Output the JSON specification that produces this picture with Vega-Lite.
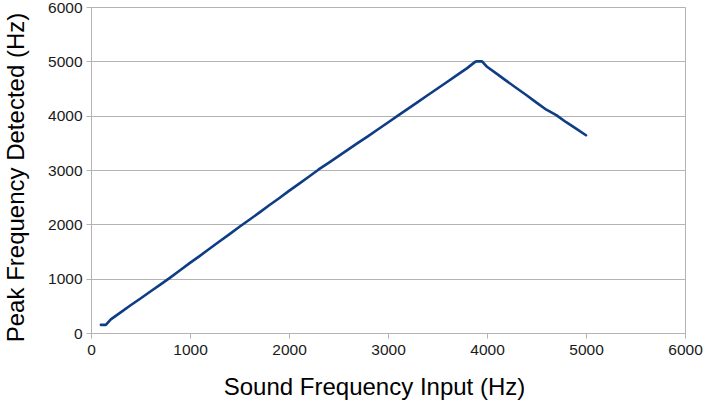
{
  "$schema": "https://vega.github.io/schema/vega-lite/v6.json",
  "width": 594,
  "height": 326,
  "autosize": {"type": "none"},
  "padding": {"left": 91, "top": 7, "right": 18, "bottom": 68},
  "background": "white",
  "config": {
    "font": "Liberation Sans",
    "view": {"stroke": "#b3b3b3", "strokeWidth": 1}
  },
  "data": {
    "values": [
      {"input": 100, "peak": 150}, {"input": 150, "peak": 150}, {"input": 200, "peak": 250},
      {"input": 300, "peak": 380}, {"input": 400, "peak": 510}, {"input": 500, "peak": 635},
      {"input": 600, "peak": 765}, {"input": 700, "peak": 890}, {"input": 800, "peak": 1020},
      {"input": 900, "peak": 1155}, {"input": 1000, "peak": 1290}, {"input": 1100, "peak": 1420},
      {"input": 1200, "peak": 1555}, {"input": 1300, "peak": 1690}, {"input": 1400, "peak": 1820},
      {"input": 1500, "peak": 1955}, {"input": 1600, "peak": 2085}, {"input": 1700, "peak": 2215},
      {"input": 1800, "peak": 2350}, {"input": 1900, "peak": 2480}, {"input": 2000, "peak": 2615},
      {"input": 2100, "peak": 2745}, {"input": 2200, "peak": 2875}, {"input": 2300, "peak": 3010},
      {"input": 2400, "peak": 3130}, {"input": 2500, "peak": 3255}, {"input": 2600, "peak": 3380},
      {"input": 2700, "peak": 3505}, {"input": 2800, "peak": 3625}, {"input": 2900, "peak": 3750},
      {"input": 3000, "peak": 3875}, {"input": 3100, "peak": 4000}, {"input": 3200, "peak": 4125},
      {"input": 3300, "peak": 4250}, {"input": 3400, "peak": 4375}, {"input": 3500, "peak": 4500},
      {"input": 3600, "peak": 4625}, {"input": 3700, "peak": 4750}, {"input": 3800, "peak": 4875},
      {"input": 3880, "peak": 4990}, {"input": 3900, "peak": 5000}, {"input": 3950, "peak": 5000},
      {"input": 4000, "peak": 4900}, {"input": 4100, "peak": 4770}, {"input": 4200, "peak": 4635},
      {"input": 4300, "peak": 4505}, {"input": 4400, "peak": 4375}, {"input": 4500, "peak": 4240},
      {"input": 4600, "peak": 4110}, {"input": 4700, "peak": 4010}, {"input": 4800, "peak": 3880},
      {"input": 4900, "peak": 3760}, {"input": 5000, "peak": 3640}
    ]
  },
  "mark": {"type": "line", "color": "#0e3d85", "strokeWidth": 2.6, "strokeJoin": "round", "strokeCap": "round"},
  "encoding": {
    "x": {
      "field": "input", "type": "quantitative",
      "scale": {"domain": [0, 6000], "nice": false},
      "axis": {
        "title": "Sound Frequency Input (Hz)",
        "values": [0, 1000, 2000, 3000, 4000, 5000, 6000],
        "format": "d",
        "grid": false,
        "domainColor": "#b3b3b3",
        "tickColor": "#b3b3b3",
        "tickSize": 5,
        "labelPadding": 4,
        "labelFontSize": 15.5,
        "labelColor": "#1a1a1a",
        "labelFont": "Liberation Sans",
        "labelFlush": false,
        "titleFont": "Liberation Sans",
        "titleFontSize": 24,
        "titleFontWeight": "normal",
        "titleColor": "#000000",
        "titlePadding": 18,
        "titleX": 283
      }
    },
    "y": {
      "field": "peak", "type": "quantitative",
      "scale": {"domain": [0, 6000], "nice": false},
      "axis": {
        "title": "Peak Frequency Detected (Hz)",
        "values": [0, 1000, 2000, 3000, 4000, 5000, 6000],
        "format": "d",
        "grid": true,
        "gridColor": "#b3b3b3",
        "domainColor": "#b3b3b3",
        "tickColor": "#b3b3b3",
        "tickSize": 5,
        "labelPadding": 4,
        "labelFontSize": 15.5,
        "labelColor": "#1a1a1a",
        "labelFont": "Liberation Sans",
        "labelFlush": false,
        "titleFont": "Liberation Sans",
        "titleFontSize": 24,
        "titleFontWeight": "normal",
        "titleColor": "#000000",
        "titlePadding": 19,
        "titleY": 170
      }
    }
  }
}
